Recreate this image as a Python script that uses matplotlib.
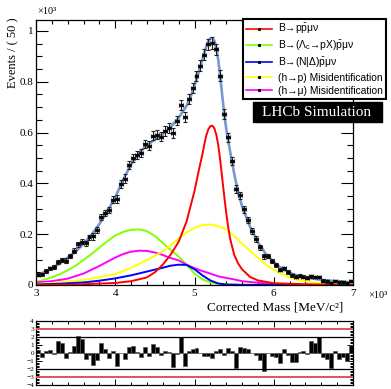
import matplotlib
matplotlib.use("Agg")
import matplotlib.pyplot as plt
from matplotlib.lines import Line2D
from matplotlib.patches import Rectangle
from matplotlib.ticker import MultipleLocator, FuncFormatter

plt.rcParams["font.family"] = ["Liberation Serif", "DejaVu Serif"]
plt.rcParams["mathtext.fontset"] = "custom"
plt.rcParams["mathtext.rm"] = "Liberation Sans"
plt.rcParams["mathtext.it"] = "Liberation Sans:italic"

# ---- data (x in MeV/c^2, y in units of 10^3 events / 50 MeV) ----
bin_centers = [3025 + 50 * i for i in range(80)]
data_vals = [
    0.041, 0.042, 0.055, 0.065, 0.070, 0.092, 0.100, 0.096, 0.114, 0.135,
    0.160, 0.171, 0.164, 0.187, 0.191, 0.218, 0.268, 0.284, 0.295, 0.335,
    0.339, 0.397, 0.419, 0.473, 0.501, 0.511, 0.520, 0.555, 0.549, 0.587,
    0.592, 0.584, 0.606, 0.618, 0.597, 0.647, 0.709, 0.662, 0.731, 0.775,
    0.823, 0.863, 0.906, 0.947, 0.952, 0.927, 0.824, 0.672, 0.581, 0.488,
    0.379, 0.354, 0.298, 0.256, 0.214, 0.181, 0.148, 0.113, 0.114, 0.095,
    0.080, 0.061, 0.065, 0.051, 0.038, 0.033, 0.036, 0.033, 0.028, 0.034,
    0.031, 0.031, 0.017, 0.014, 0.007, 0.016, 0.010, 0.010, 0.007, 0.015,
]
data_errs = [
    0.006, 0.0065, 0.007, 0.007, 0.0075, 0.008, 0.008, 0.009, 0.009, 0.0095,
    0.010, 0.010, 0.011, 0.011, 0.012, 0.012, 0.0125, 0.013, 0.0135, 0.014,
    0.0145, 0.015, 0.016, 0.016, 0.0165, 0.017, 0.017, 0.0175, 0.018, 0.018,
    0.018, 0.018, 0.018, 0.0185, 0.019, 0.019, 0.019, 0.0195, 0.020, 0.020,
    0.021, 0.0215, 0.022, 0.0225, 0.0225, 0.022, 0.021, 0.019, 0.018, 0.0165,
    0.015, 0.014, 0.013, 0.0125, 0.0115, 0.011, 0.010, 0.0097, 0.009, 0.0086,
    0.008, 0.0076, 0.0072, 0.0068, 0.0065, 0.006, 0.006, 0.0058, 0.0056, 0.0054,
    0.0053, 0.005, 0.0049, 0.0048, 0.0047, 0.0046, 0.0044, 0.0043, 0.0043, 0.0042,
]
pulls = [
    0.35, -0.55, 0.2, 0.35, -0.1, 1.5, 1.2, -0.6, 0.1, 0.9,
    2.1, 1.7, -0.7, -0.2, -1.5, -0.9, 1.25, 0.5, -0.6, 0.3,
    -1.6, 0.0, -0.7, 0.8, 0.9, 0.1, -0.45, 0.7, -0.4, 1.1,
    0.8, -0.3, 0.2, 0.15, -1.8, -0.1, 2.05, -1.6, 0.3, 0.5,
    0.6, 0.0, -0.4, -0.4, -0.6, 0.2, 0.5, -0.3, 0.6, 0.3,
    -1.9, 0.8, 0.6, 0.5, 0.0, -0.3, -0.9, -2.2, 0.0, -0.4,
    -0.5, -1.3, 0.5, -0.2, -1.1, -1.1, 0.1, 0.2, -0.1, 1.5,
    1.3, 2.0, -0.5, -0.8, -1.9, 0.2, -0.7, -0.5, -1.0, 1.0,
]

total_x = [3000, 3100, 3200, 3300, 3400, 3500, 3600, 3700, 3800, 3900,
           4000, 4100, 4200, 4300, 4400, 4500, 4600, 4700, 4800, 4900,
           4950, 5000, 5050, 5100, 5125, 5150, 5175, 5200, 5225, 5250,
           5275, 5300, 5325, 5350, 5375, 5400, 5450, 5500, 5550,
           5600, 5700, 5800, 5900, 6000, 6100, 6200, 6300, 6400, 6500,
           6600, 6800, 7000]
total_y = [0.035, 0.050, 0.066, 0.085, 0.107, 0.132, 0.162, 0.198, 0.240, 0.290,
           0.345, 0.415, 0.475, 0.520, 0.550, 0.572, 0.595, 0.622, 0.658, 0.705,
           0.740, 0.785, 0.835, 0.888, 0.915, 0.940, 0.960, 0.971, 0.972, 0.962,
           0.935, 0.885, 0.820, 0.745, 0.675, 0.615, 0.525, 0.440, 0.365,
           0.310, 0.230, 0.168, 0.122, 0.090, 0.065, 0.048, 0.037, 0.030, 0.025,
           0.020, 0.014, 0.010]

sig_x = [3000, 3500, 4000, 4200, 4400, 4500, 4600, 4700, 4800, 4900, 5000,
         5050, 5100, 5125, 5150, 5175, 5200, 5225, 5250, 5275, 5300, 5325,
         5350, 5375, 5400, 5425, 5450, 5500, 5550, 5600, 5700, 5800, 6000,
         6500, 7000]
sig_y = [0.000, 0.002, 0.008, 0.015, 0.030, 0.050, 0.080, 0.120, 0.170, 0.250, 0.370,
         0.445, 0.515, 0.555, 0.590, 0.613, 0.625, 0.627, 0.617, 0.592, 0.550, 0.490,
         0.420, 0.350, 0.285, 0.228, 0.182, 0.120, 0.085, 0.062, 0.032, 0.018, 0.007,
         0.002, 0.000]

lc_x = [3000, 3100, 3200, 3300, 3400, 3500, 3600, 3700, 3800, 3900, 4000,
        4100, 4200, 4300, 4400, 4500, 4600, 4700, 4800, 4900, 5000, 5100,
        5200, 5300, 5500, 7000]
lc_y = [0.012, 0.020, 0.030, 0.042, 0.058, 0.076, 0.098, 0.122, 0.147, 0.172, 0.195,
        0.209, 0.217, 0.219, 0.212, 0.193, 0.165, 0.138, 0.112, 0.080, 0.045, 0.022,
        0.010, 0.004, 0.001, 0.000]

nd_x = [3000, 3300, 3600, 3800, 4000, 4200, 4400, 4600, 4700, 4800, 4900,
        5000, 5100, 5200, 5300, 5400, 5600, 7000]
nd_y = [0.002, 0.005, 0.010, 0.017, 0.026, 0.038, 0.053, 0.068, 0.076, 0.080, 0.079,
        0.062, 0.038, 0.018, 0.006, 0.002, 0.0005, 0.000]

hp_x = [3000, 3200, 3400, 3600, 3800, 4000, 4200, 4400, 4600, 4800, 4900,
        5000, 5100, 5200, 5300, 5400, 5500, 5600, 5700, 5800, 5900, 6000,
        6100, 6200, 6300, 6500, 6700, 7000]
hp_y = [0.004, 0.008, 0.013, 0.020, 0.030, 0.043, 0.068, 0.098, 0.132, 0.182, 0.207,
        0.225, 0.236, 0.238, 0.232, 0.218, 0.193, 0.163, 0.135, 0.107, 0.080, 0.060,
        0.043, 0.030, 0.020, 0.010, 0.004, 0.001]

hmu_x = [3000, 3200, 3400, 3600, 3800, 4000, 4100, 4200, 4300, 4400, 4500,
         4600, 4700, 4800, 4900, 5000, 5100, 5200, 5300, 5400, 5500, 5600,
         5800, 6000, 6500, 7000]
hmu_y = [0.010, 0.015, 0.025, 0.045, 0.075, 0.108, 0.122, 0.131, 0.135, 0.134, 0.128,
         0.118, 0.106, 0.097, 0.080, 0.066, 0.055, 0.045, 0.034, 0.028, 0.022, 0.015,
         0.009, 0.004, 0.001, 0.000]

labels = [
    r"B→p$\bar{\mathrm{p}}\mathrm{\mu\nu}$",
    r"B→($\Lambda_{\mathrm{c}}$→pX)$\bar{\mathrm{p}}\mathrm{\mu\nu}$",
    r"B→(N|$\Delta$)$\bar{\mathrm{p}}\mathrm{\mu\nu}$",
    "(h→p) Misidentification",
    "(h→μ) Misidentification",
]
colors = ["#ff0000", "#80ff00", "#0000ff", "#ffff00", "#ff00ff"]

W, H = 391, 389
fig = plt.figure(figsize=(W / 100, H / 100), dpi=100)
ax = fig.add_axes([36 / W, 1 - 285 / H, 317 / W, 265 / H])
rax = fig.add_axes([36 / W, 1 - 385 / H, 317 / W, 64 / H])

for xs, ys, c in [(lc_x, lc_y, colors[1]), (hmu_x, hmu_y, colors[4]),
                  (hp_x, hp_y, colors[3]), (nd_x, nd_y, colors[2]),
                  (sig_x, sig_y, colors[0])]:
    ax.plot(xs, ys, color=c, lw=1.4, zorder=2)
ax.plot(total_x, total_y, color="#7898d0", lw=1.9, zorder=3)
ax.errorbar(bin_centers, data_vals, xerr=25, yerr=data_errs, fmt="o", ms=1.6,
            color="black", ecolor="#222222", elinewidth=0.8, capsize=1.3,
            capthick=0.8, zorder=4)

ax.set_xlim(3000, 7000)
ax.set_ylim(0, 1.043)
ax.xaxis.set_major_locator(MultipleLocator(1000))
ax.xaxis.set_minor_locator(MultipleLocator(200))
ax.yaxis.set_major_locator(MultipleLocator(0.2))
ax.yaxis.set_minor_locator(MultipleLocator(0.05))
ax.xaxis.set_major_formatter(FuncFormatter(lambda v, p: f"{v / 1000:g}"))
ax.yaxis.set_major_formatter(FuncFormatter(lambda v, p: f"{v:.1f}".rstrip("0").rstrip(".")))
ax.tick_params(which="both", direction="in", top=True, right=True, width=0.8, labelsize=8)
ax.tick_params(axis="y", which="major", length=8.5, pad=2)
ax.tick_params(axis="y", which="minor", length=4.5)
ax.tick_params(axis="x", which="major", length=6, pad=3)
ax.tick_params(axis="x", which="minor", length=3)
for s in ax.spines.values():
    s.set_linewidth(0.9)

fig.text(343 / W, 1 - 308 / H, "Corrected Mass [MeV/c²]", ha="right", va="center", fontsize=9.5)
fig.text(368 / W, 1 - 296 / H, "×10³", ha="left", va="center", fontsize=7.5)
fig.text(37 / W, 1 - 12 / H, "×10³", ha="left", va="center", fontsize=7.5)
fig.text(13 / W, 1 - 17 / H, "Events / ( 50 )", rotation=90, ha="center", va="top", fontsize=9)

# residuals
rax.bar(bin_centers, pulls, width=50, color="black", edgecolor="#555555", linewidth=0.5, zorder=2)
for lvl in (2, -2):
    rax.axhline(lvl, color="black", lw=0.9, zorder=3)
for lvl in (3, -3):
    rax.axhline(lvl, color="#e05555", lw=1.4, zorder=3)
rax.set_xlim(3000, 7000)
rax.set_ylim(-4, 4)
rax.xaxis.set_major_locator(MultipleLocator(1000))
rax.xaxis.set_minor_locator(MultipleLocator(200))
rax.yaxis.set_major_locator(MultipleLocator(1))
rax.yaxis.set_minor_locator(MultipleLocator(0.2))
rax.tick_params(which="both", direction="in", top=True, right=True, width=0.7,
                labelsize=5.2, labelbottom=False)
rax.tick_params(axis="y", which="major", length=4, pad=1.5)
rax.tick_params(axis="y", which="minor", length=2.5)
rax.tick_params(axis="x", which="major", length=4)
rax.tick_params(axis="x", which="minor", length=2)
for s in rax.spines.values():
    s.set_linewidth(0.9)

# legend
handles = [Line2D([], [], color=c, lw=1.2, marker="s", ms=1.2, mfc="black", mec="black")
           for c in colors]
leg = fig.legend(handles, labels, loc="upper left", bbox_to_anchor=(243 / W, 1 - 19 / H),
                 frameon=True, fancybox=False, edgecolor="black", framealpha=1,
                 prop={"family": "Liberation Sans", "size": 7.4}, handlelength=2.5,
                 handletextpad=0.6, labelspacing=0.28, borderpad=0.3, borderaxespad=0,
                 numpoints=1)
leg.get_frame().set_linewidth(1.5)

fig.add_artist(Rectangle((253 / W, 1 - 122 / H), 129 / W, 20 / H, transform=fig.transFigure,
                         facecolor="black", edgecolor="black", zorder=5))
fig.text(317 / W, 1 - 112 / H, "LHCb Simulation", color="white", ha="center", va="center",
         fontsize=11, zorder=6)

fig.savefig("out.png", dpi=100)
